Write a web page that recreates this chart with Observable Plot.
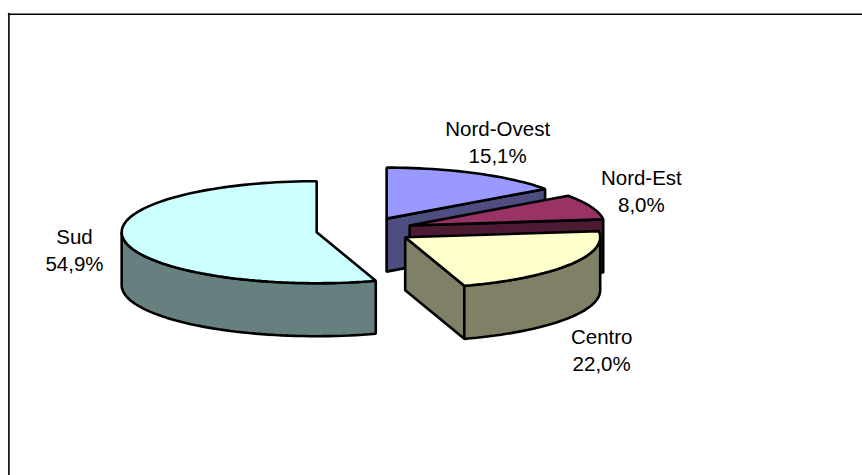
<!DOCTYPE html>
<html><head><meta charset="utf-8">
<style>html,body{margin:0;padding:0;background:#fff;overflow:hidden}svg{display:block}</style>
<script src="https://cdn.jsdelivr.net/npm/d3@7"></script>
<script src="https://cdn.jsdelivr.net/npm/@observablehq/plot@0.6"></script>
</head><body>
<div id="chart"></div>
<script>
const regions = ["Nord-Ovest", "Nord-Est", "Centro", "Sud"];
const shares = [15.1, 8.0, 22.0, 54.9];
const shareLabels = ["15,1%", "8,0%", "22,0%", "54,9%"];
const topColors = ["#9999ff", "#993366", "#ffffcc", "#ccffff"];
const sideColors = ["#4d4d80", "#4d1a33", "#808066", "#668080"];
const labelNudges = [[22, -32.5], [50, -17], [32.5, 84], [-49.5, 8.5]];

const W = 862, H = 475;
const cx = 364, cy = 229.7, rx = 195, ry = 51, depth = 53;
const explodeX = 48.4, explodeY = 13;
const rad = d => d * Math.PI / 180;

let cum = 0;
const slices = regions.map((name, i) => {
  const a0 = cum * 3.6; cum += shares[i]; const a1 = cum * 3.6;
  const mid = rad((a0 + a1) / 2);
  return {i, name, a0, a1, mid,
    ox: cx + explodeX * Math.sin(mid),
    oy: cy - explodeY * Math.cos(mid)};
});
const rim = (s, a, dz = 0) => ({
  x: s.ox + rx * Math.sin(rad(a)),
  y: s.oy - ry * Math.cos(rad(a)) + dz});
const arc = (s, a, b, dz = 0) => {
  const n = Math.max(2, Math.ceil(Math.abs(b - a) / 2));
  return d3.range(n + 1).map(k => rim(s, a + (b - a) * k / n, dz));
};
const apex = (s, dz = 0) => ({x: s.ox, y: s.oy + dz});

const faces = [];
for (const s of slices) {
  const side = sideColors[s.i], top = topColors[s.i];
  // cut face at the end of the slice, when it looks towards the viewer
  if (s.a1 < 180) {
    const e = rim(s, s.a1);
    faces.push({fill: side, pts: [apex(s), e, rim(s, s.a1, depth), apex(s, depth)]});
  }
  // outer wall: the front half of the rim
  const w0 = Math.max(s.a0, 90), w1 = Math.min(s.a1, 270);
  if (w1 > w0) faces.push({fill: side, pts: [...arc(s, w0, w1), ...arc(s, w1, w0, depth)]});
  // top
  faces.push({fill: top, pts: [apex(s), ...arc(s, s.a0, s.a1)]});
}

const labelRows = slices.map(s => ({...rim(s, (s.a0 + s.a1) / 2), s}));
const frameTop = [{x: 8, y: 13.8}, {x: 862, y: 13.8}];
const frameLeft = [{x: 8.4, y: 13}, {x: 8.4, y: 475}];

const plot = Plot.plot({
  width: W, height: H, margin: 0,
  x: {domain: [0, W], range: [0, W], axis: null},
  y: {domain: [0, H], range: [0, H], axis: null},
  style: {background: "#fff"},
  marks: [
    Plot.line(frameTop, {x: "x", y: "y", stroke: "#000", strokeWidth: 1.6}),
    Plot.line(frameLeft, {x: "x", y: "y", stroke: "#000", strokeWidth: 1.6}),
    ...faces.map(f => Plot.line(f.pts, {x: "x", y: "y", fill: f.fill, stroke: "#000",
      strokeWidth: 2.6, curve: "linear-closed", strokeLinejoin: "miter"})),
    ...labelRows.map(r => Plot.text([r], {x: "x", y: "y",
      text: d => `${regions[d.s.i]}\n${shareLabels[d.s.i]}`,
      dx: labelNudges[r.s.i][0], dy: labelNudges[r.s.i][1],
      fontFamily: "Liberation Sans, Arial, sans-serif", fontSize: 20.5, lineHeight: 1.32,
      fill: "#000", textAnchor: "middle"}))
  ]
});
document.getElementById("chart").append(plot);
</script>
</body></html>
